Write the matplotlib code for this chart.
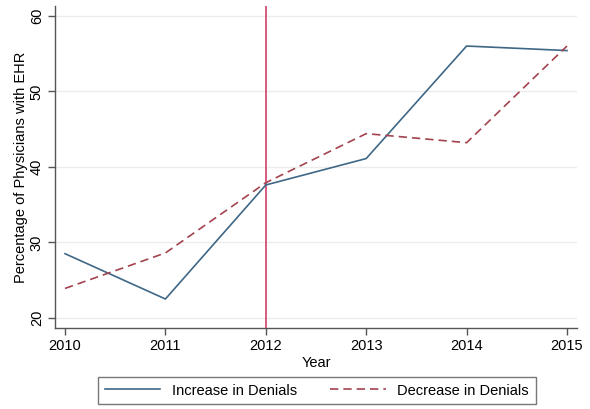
import matplotlib
matplotlib.use("Agg")
import matplotlib.pyplot as plt

years = [2010, 2011, 2012, 2013, 2014, 2015]
increase = [28.5, 22.5, 37.6, 41.1, 56.0, 55.4]
decrease = [23.9, 28.6, 37.9, 44.4, 43.2, 56.0]
yticks = [20, 30, 40, 50, 60]
policy_year = 2012

plt.rcParams['font.family'] = ['Liberation Sans', 'DejaVu Sans']
plt.rcParams['font.size'] = 10.5

fig = plt.figure(figsize=(5.9, 4.09), dpi=100)
ax = fig.add_axes([0.0932, 0.1988, 0.8848, 0.7865])

for y in yticks:
    ax.axhline(y, color='#ececec', lw=1.0, zorder=0)

ax.axvline(policy_year, color='#d43d6a', lw=1.2, zorder=1)
l1, = ax.plot(years, increase, color='#3f6786', lw=1.2, label='Increase in Denials', zorder=3)
l2, = ax.plot(years, decrease, color='#a3434f', lw=1.2, ls=(0, (5, 3)), label='Decrease in Denials', zorder=3)

ax.set_xlim(2009.9, 2015.1)
ax.set_ylim(18.7, 61.3)
ax.set_xticks(years)
ax.set_yticks(yticks)
ax.set_yticklabels([str(v) for v in yticks], rotation=90, va='center')
ax.spines['top'].set_visible(False)
ax.spines['right'].set_visible(False)
for s in ['left', 'bottom']:
    ax.spines[s].set_color('#555555')
    ax.spines[s].set_linewidth(1.0)
ax.tick_params(direction='out', length=5, color='#555555', width=1.0, pad=3)
ax.set_xlabel('Year', labelpad=2)
ax.set_ylabel('Percentage of Physicians with EHR', labelpad=1)

leg = fig.legend(handles=[l1, l2], loc='center', bbox_to_anchor=(0.537, 0.045), ncol=2,
                 frameon=True, fancybox=False, edgecolor='#555555', handlelength=3.8,
                 columnspacing=2.3, borderpad=0.45, handletextpad=0.8)
leg.get_frame().set_linewidth(1.0)

fig.savefig('out.png', dpi=100)
